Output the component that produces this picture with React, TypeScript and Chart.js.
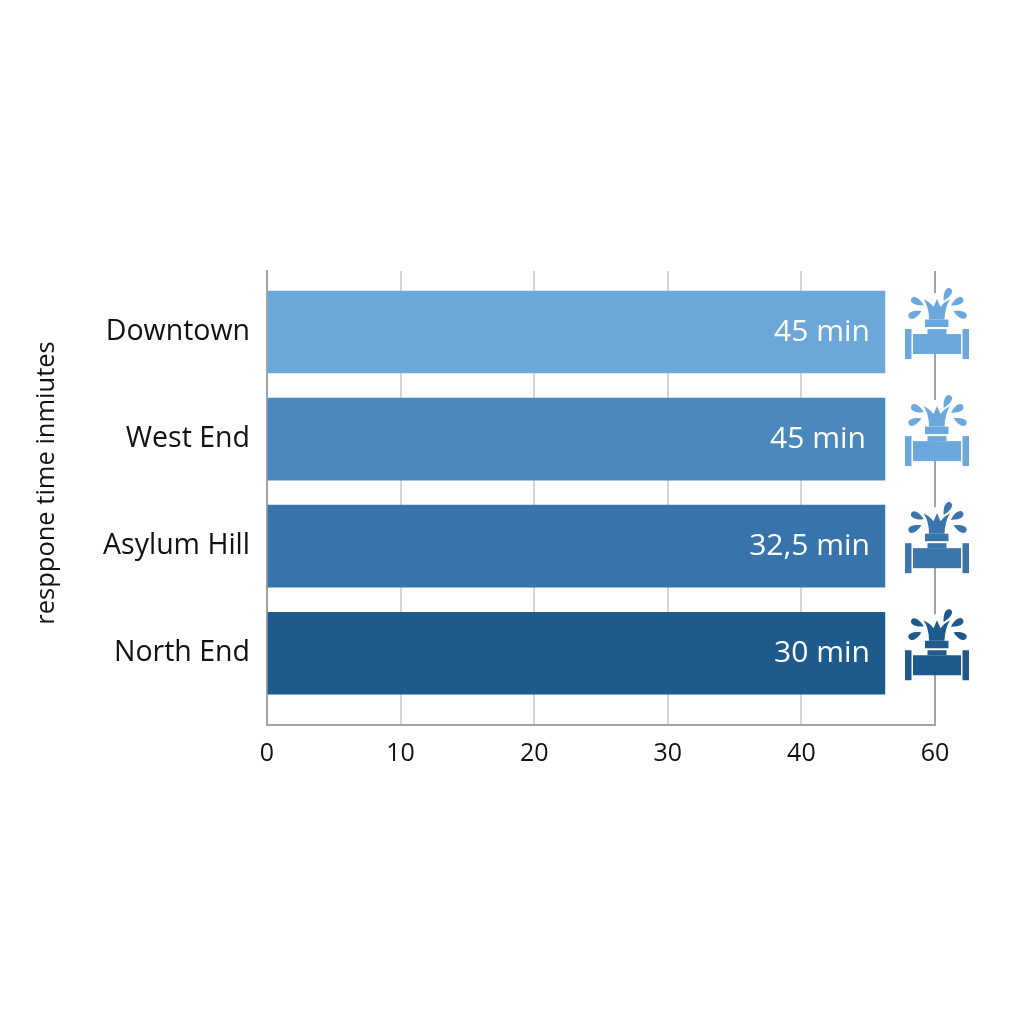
import { useEffect, useRef } from "react"
import { Chart, registerables } from "chart.js"

Chart.register(...registerables)

const categories = ["Downtown", "West End", "Asylum Hill", "North End"]
// all four bars are drawn to the same length in the picture, whatever their label says
const barValues = [46.25, 46.25, 46.25, 46.25]
const barLabels = ["45 min", "45 min", "32,5 min", "30 min"]
const barColors = ["#6ba7d9", "#4a88be", "#3774ab", "#1f5a8d"]
const iconColors = ["#6ba9dc", "#6ba9dc", "#3a75ac", "#1f5a8d"]
// the axis is labelled unevenly: the sixth evenly spaced tick reads 60
const tickLabels = ["0", "10", "20", "30", "40", "60"]
const yTitle = "resppone time inmiutes"

const FONT = '"Open Sans"'
const labelInsets = [15, 19, 15, 15]

function drawValve(ctx: CanvasRenderingContext2D, cx: number, cy: number, color: string) {
  ctx.save()
  ctx.translate(cx, cy)

  // hide the gridline behind the spray
  ctx.fillStyle = "#ffffff"
  ctx.fillRect(-4, -51, 8, 41)

  ctx.fillStyle = color
  // flanges, body, neck, collar
  ctx.fillRect(-32, -15, 6.5, 30)
  ctx.fillRect(25.5, -15, 6.5, 30)
  ctx.fillRect(-24, -10, 48, 20)
  ctx.fillRect(-9.5, -15, 19, 5)
  ctx.fillRect(-12, -24.5, 23.5, 7.5)

  // spray crown
  ctx.beginPath()
  ctx.moveTo(-8, -24.5)
  ctx.quadraticCurveTo(-8, -37, -13.5, -45)
  ctx.quadraticCurveTo(-7, -42, -3.5, -37)
  ctx.lineTo(0, -45)
  ctx.lineTo(3.5, -37)
  ctx.quadraticCurveTo(7, -42, 13, -45)
  ctx.quadraticCurveTo(8, -37, 7.5, -24.5)
  ctx.closePath()
  ctx.fill()

  // drops: [x, y, angle]
  const drops = [
    [10, -49.5, 0.5],
    [-19.5, -42, -1.1],
    [20, -42, 1.05],
    [-22, -30, -1.99],
    [23, -30, 1.99],
  ]
  drops.forEach(([x, y, a]) => {
    ctx.save()
    ctx.translate(x, y)
    ctx.rotate(a)
    ctx.beginPath()
    ctx.moveTo(0, 7)
    ctx.bezierCurveTo(4.6, 0, 4.6, -7, 0, -7)
    ctx.bezierCurveTo(-4.6, -7, -4.6, 0, 0, 7)
    ctx.fill()
    ctx.restore()
  })
  ctx.restore()
}

const annotations = {
  id: "annotations",
  afterDatasetsDraw(chart: Chart) {
    const { ctx, scales } = chart
    const bars = chart.getDatasetMeta(0).data
    ctx.save()
    bars.forEach((bar: any, i: number) => {
      ctx.font = `30px ${FONT}`
      ctx.fillStyle = "#ffffff"
      ctx.textAlign = "right"
      ctx.textBaseline = "middle"
      ctx.fillText(barLabels[i], bar.x - labelInsets[i], bar.y)
      drawValve(ctx, scales.x.getPixelForValue(50) + 2, bar.y + 12, iconColors[i])
    })

    ctx.translate(47, scales.y.getPixelForValue(1.41))
    ctx.rotate(-Math.PI / 2)
    ctx.font = `25.5px ${FONT}`
    ctx.fillStyle = "#111111"
    ctx.textAlign = "center"
    ctx.textBaseline = "middle"
    ctx.fillText(yTitle, 0, 0)
    ctx.restore()
  },
}

export default function App() {
  const canvasRef = useRef<HTMLCanvasElement>(null)

  useEffect(() => {
    if (!canvasRef.current) return

    const chart = new Chart(canvasRef.current, {
      type: "bar",
      data: {
        datasets: [
          {
            data: barValues.map((v, i) => ({ x: v, y: i })),
            backgroundColor: barColors,
            barThickness: 82,
          },
        ],
      },
      options: {
        indexAxis: "y",
        animation: false,
        responsive: false,
        devicePixelRatio: 1,
        layout: { padding: { top: 271, right: 89, left: 0, bottom: 0 } },
        plugins: { legend: { display: false }, tooltip: { enabled: false } },
        scales: {
          x: {
            type: "linear",
            min: 0,
            max: 50,
            afterFit: (s: any) => {
              s.height = 299
            },
            border: { display: true, color: "#a3a3a3", width: 2 },
            grid: {
              color: (c: any) => (c.tick.value === 50 ? "#a3a3a3" : "#d4d4d4"),
              lineWidth: 2,
              drawTicks: false,
            },
            ticks: {
              stepSize: 10,
              padding: 14,
              color: "#111111",
              font: { family: FONT, size: 25 },
              maxRotation: 0,
              callback: (v: any) => tickLabels[Number(v) / 10],
            },
          },
          y: {
            type: "linear",
            reverse: true,
            offset: false,
            min: -0.57,
            max: 3.67,
            afterBuildTicks: (s: any) => {
              s.ticks = categories.map((_, i) => ({ value: i }))
            },
            afterFit: (s: any) => {
              s.width = 267
            },
            border: { display: true, color: "#a3a3a3", width: 2 },
            grid: { display: false, drawTicks: false },
            ticks: {
              padding: 17,
              color: "#111111",
              font: { family: FONT, size: 28.5 },
              autoSkip: false,
              callback: (v: any) => categories[Number(v)],
            },
          },
        },
      },
      plugins: [annotations],
    })
    return () => chart.destroy()
  }, [])

  return (
    <div style={{ position: "absolute", left: 0, top: 0, width: 1024, height: 1024, background: "#ffffff" }}>
      <canvas ref={canvasRef} width={1024} height={1024} />
    </div>
  )
}
